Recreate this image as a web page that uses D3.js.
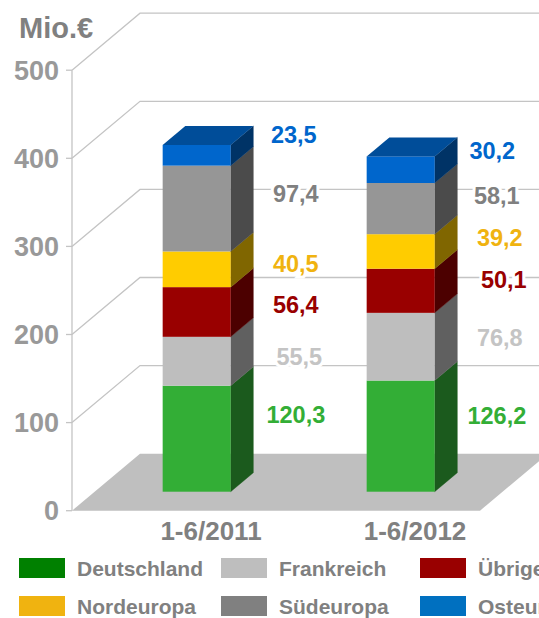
<!DOCTYPE html>
<html><head><meta charset="utf-8">
<style>html,body{margin:0;padding:0;background:#fff;overflow:hidden}svg{display:block}text{font-family:"Liberation Sans",Arial,sans-serif;font-weight:bold}</style>
<script src="https://cdnjs.cloudflare.com/ajax/libs/d3/7.8.5/d3.min.js"></script>
</head><body><svg id="c" width="539" height="618"></svg>
<script>
const categories = ["1-6/2011", "1-6/2012"];
const seriesNames = ["Deutschland", "Frankreich", "Übrige", "Nordeuropa", "Südeuropa", "Osteuropa"];
const deutschland = [120.3, 126.2];
const frankreich = [55.5, 76.8];
const uebrige = [56.4, 50.1];
const nordeuropa = [40.5, 39.2];
const suedeuropa = [97.4, 58.1];
const osteuropa = [23.5, 30.2];
const yTicks = [0, 100, 200, 300, 400, 500];
const unitLabel = "Mio.€";

const frontColors = ["#33ae36", "#bebebe", "#990000", "#ffcc00", "#969696", "#0066cc"];
const sideColors = ["#1b5a1d", "#606060", "#4c0000", "#806600", "#4b4b4b", "#003366"];
const topColor = "#004d99";
const legendColors = ["#008000", "#bebebe", "#990000", "#f0b310", "#808080", "#0070c0"];
const labelColors = ["#33ae36", "#c4c4c4", "#990000", "#f0b310", "#808080", "#0066cc"];
// label nudges from the default spot, [dx, dy] by series then category
const labelNudge = [
  [[42.5,-24],[39.5,-20.3]],
  [[46,-4],[42.5,-8.8]],
  [[42.5,-7],[46.5,-11]],
  [[42.5,-5.5],[42.5,-13.5]],
  [[42.5,-14.5],[39.5,-12.6]],
  [[40.5,-20.5],[35,-19]]
];

const valuesBySeries = [deutschland, frankreich, uebrige, nordeuropa, suedeuropa, osteuropa];
const rows = categories.map((c, i) => {
  const r = {category: c};
  seriesNames.forEach((s, k) => r[s] = valuesBySeries[k][i]);
  return r;
});
const stacked = d3.stack().keys(seriesNames)(rows);

const depth = {x: 68, y: 57};
const svg = d3.select("#c");
const y = d3.scaleLinear().domain([0, 500]).range([510.7, 70.2]);
const x = d3.scaleBand().domain(categories).range([72, 480]).paddingInner(2/3).paddingOuter(1/3);
const grid = "#c4c4c4";

// floor
svg.append("polygon").attr("fill", "#bfbfbf").attr("points", [
  [x.range()[0], y(0)], [x.range()[0] + depth.x, y(0) - depth.y],
  [x.range()[1] + depth.x, y(0) - depth.y], [x.range()[1], y(0)]
].join(" "));

// grid lines, walls
const g = svg.append("g").attr("fill", "none").attr("stroke", grid).attr("stroke-width", 1.3);
yTicks.forEach(t => {
  if (t > 0) {
    g.append("path").attr("d", d3.line()([
      [x.range()[0], y(t)], [x.range()[0] + depth.x, y(t) - depth.y], [x.range()[1] + depth.x, y(t) - depth.y]
    ]));
  }
  g.append("line").attr("x1", x.range()[0] - 6).attr("x2", x.range()[0]).attr("y1", y(t)).attr("y2", y(t));
});
g.append("line").attr("x1", x.range()[0]).attr("x2", x.range()[0]).attr("y1", y(500)).attr("y2", y(0));

// tick labels
svg.append("g").selectAll("text").data(yTicks).join("text")
  .attr("x", 59).attr("y", d => y(d)).attr("dy", "0.35em").attr("text-anchor", "end")
  .attr("font-size", 27).attr("fill", "#999999").text(d => d);
svg.append("text").attr("x", 19).attr("y", 38).attr("font-size", 29).attr("fill", "#808080").text(unitLabel);

// bars
const ox = depth.x / 3, oy = depth.y / 3;
const bars = svg.append("g");
stacked.forEach((layer, k) => {
  layer.forEach((d, i) => {
    const x0 = x(categories[i]) + ox, x1 = x0 + x.bandwidth();
    const yb = y(d[0]) - oy, yt = y(d[1]) - oy;
    bars.append("polygon").attr("fill", sideColors[k]).attr("stroke", sideColors[k]).attr("stroke-width", 0.4)
      .attr("points", [[x1, yb], [x1 + ox, yb - oy], [x1 + ox, yt - oy], [x1, yt]].join(" "));
    bars.append("rect").attr("x", x0).attr("y", yt).attr("width", x1 - x0).attr("height", yb - yt).attr("fill", frontColors[k]);
    if (k === stacked.length - 1) {
      bars.append("polygon").attr("fill", topColor)
        .attr("points", [[x0, yt], [x0 + ox, yt - oy], [x1 + ox, yt - oy], [x1, yt]].join(" "));
    }
  });
});

// value labels
const labels = svg.append("g");
stacked.forEach((layer, k) => {
  layer.forEach((d, i) => {
    const [dx, dy] = labelNudge[k][i];
    labels.append("text")
      .attr("x", x(categories[i]) + x.bandwidth() + 2 * ox + dx)
      .attr("y", y((d[0] + d[1]) / 2) - oy + dy)
      .attr("dy", "0.35em").attr("text-anchor", "middle")
      .attr("font-size", 23.5).attr("fill", labelColors[k])
      .attr("stroke", "#fff").attr("stroke-width", 6).attr("paint-order", "stroke")
      .text(String(valuesBySeries[k][i]).replace(".", ","));
  });
});

// category labels
svg.append("g").selectAll("text").data(categories).join("text")
  .attr("x", d => x(d) + x.bandwidth() / 2 + 37).attr("y", 539.5).attr("text-anchor", "middle")
  .attr("font-size", 26).attr("fill", "#808080").text(d => d);

// legend
const legendColumns = [19, 221, 420];
const legendRows = [558, 596];
const legend = svg.append("g").selectAll("g").data(seriesNames).join("g")
  .attr("transform", (d, i) => `translate(${legendColumns[i % 3]},${legendRows[Math.floor(i / 3)]})`);
legend.append("rect").attr("width", 46).attr("height", 20).attr("fill", (d, i) => legendColors[i]);
legend.append("text").attr("x", 58).attr("y", 10).attr("dy", "0.37em")
  .attr("font-size", 21).attr("fill", "#808080").text(d => d);
</script></body></html>
